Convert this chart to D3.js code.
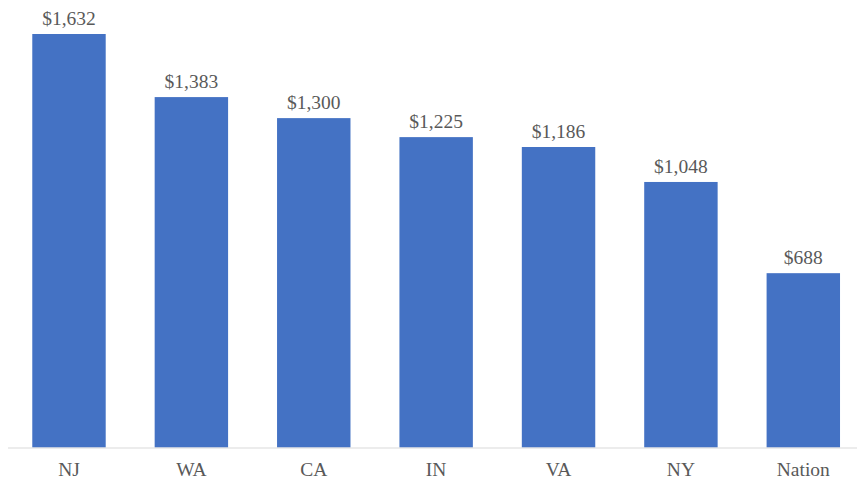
<!DOCTYPE html>
<html><head><meta charset="utf-8">
<script src="https://cdn.jsdelivr.net/npm/d3@7"></script>
<style>body{margin:0;background:#fff}svg{display:block}
text{font-family:"Liberation Serif","Times New Roman",Times,"DejaVu Serif",serif;}</style>
</head><body>
<svg id="chart" width="857" height="479"></svg>
<script>
const categories = ["NJ","WA","CA","IN","VA","NY","Nation"];
const values = [1632,1383,1300,1225,1186,1048,688];

const svg = d3.select("#chart");
const x = d3.scaleBand().domain(categories).range([7.8, 864.5]).padding(0);
const y = d3.scaleLinear().domain([0, 1632]).range([447.5, 34]);
const barW = x.bandwidth() * 0.6;

svg.selectAll("rect.bar").data(categories).join("rect")
  .attr("class","bar")
  .attr("x", d => x(d) + (x.bandwidth()-barW)/2)
  .attr("width", barW)
  .attr("y", (d,i) => y(values[i]))
  .attr("height", (d,i) => y(0) - y(values[i]))
  .attr("fill", "#4472C4");

svg.append("line").attr("x1", 8).attr("x2", 857)
  .attr("y1", y(0)+0.5).attr("y2", y(0)+0.5)
  .attr("stroke", "#d9d9d9").attr("stroke-width", 1);

const fmt = d3.format(",");
svg.selectAll("text.val").data(categories).join("text")
  .attr("class","val")
  .attr("x", d => x(d) + x.bandwidth()/2)
  .attr("y", (d,i) => y(values[i]) - 9)
  .attr("text-anchor","middle")
  .attr("font-size", 19.5)
  .attr("fill", "#595959")
  .text((d,i) => "$" + fmt(values[i]));

svg.selectAll("text.cat").data(categories).join("text")
  .attr("class","cat")
  .attr("x", d => x(d) + x.bandwidth()/2)
  .attr("y", 476)
  .attr("text-anchor","middle")
  .attr("font-size", 19.5)
  .attr("fill", "#595959")
  .text(d => d);
</script>
</body></html>
